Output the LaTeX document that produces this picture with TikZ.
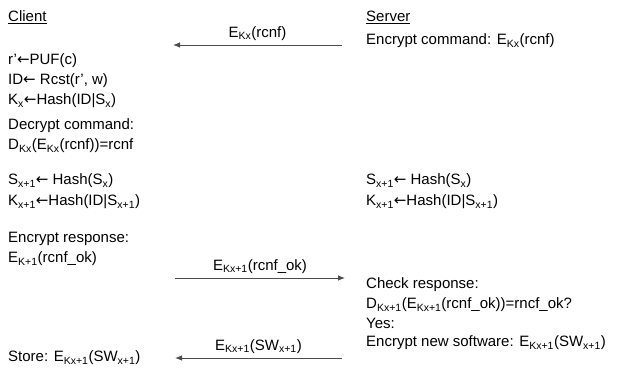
\documentclass[tikz,border=0pt]{standalone}
\usepackage{fontspec}
\setmainfont{Liberation Sans}
\newfontfamily\arrfont{DejaVu Sans}
\usetikzlibrary{arrows.meta}
\newcommand{\lo}[1]{\textsubscript{#1}}
\newcommand{\getsarr}{{\arrfont ←}}

\begin{document}
\begin{tikzpicture}[x=1pt,y=1pt,font=\fontsize{15}{18}\selectfont,
    txt/.style={anchor=west,inner sep=0pt},
    msg/.style={draw=black!70,line width=0.9pt,-{Latex[length=7pt,width=5.5pt]}}]
  \useasboundingbox (0,0) rectangle (619,-377);
  % client side
  \node[txt] (cl)   at (8,-17)  {\underline{Client}};
  \node[txt] (puf)  at (8,-61)  {r’\getsarr PUF(c)};
  \node[txt] (id)   at (8,-81)  {ID\getsarr\ Rcst(r’, w)};
  \node[txt] (kx)   at (8,-101) {K\lo{x}\getsarr Hash(ID|S\lo{x})};
  \node[txt] (dec)  at (8,-126) {Decrypt command:};
  \node[txt] (dres) at (8,-146) {D\lo{Kx}(E\lo{Kx}(rcnf))=rcnf};
  \node[txt] (cs)   at (8,-181) {S\lo{x+1}\getsarr\ Hash(S\lo{x})};
  \node[txt] (ck)   at (8,-202) {K\lo{x+1}\getsarr Hash(ID|S\lo{x+1})};
  \node[txt] (encr) at (8,-239) {Encrypt response:};
  \node[txt] (eok)  at (8,-259) {E\lo{K+1}(rcnf\_ok)};
  \node[txt] (sto)  at (8,-358) {Store: E\lo{Kx+1}(SW\lo{x+1})};
  % server side
  \node[txt] (sv)   at (366,-17)  {\underline{Server}};
  \node[txt] (encc) at (366,-41)  {Encrypt command: E\lo{Kx}(rcnf)};
  \node[txt] (ss)   at (366,-181) {S\lo{x+1}\getsarr\ Hash(S\lo{x})};
  \node[txt] (sk)   at (366,-202) {K\lo{x+1}\getsarr Hash(ID|S\lo{x+1})};
  \node[txt] (chk)  at (366,-285) {Check response:};
  \node[txt] (dchk) at (366,-305) {D\lo{Kx+1}(E\lo{Kx+1}(rcnf\_ok))=rncf\_ok?};
  \node[txt] (yes)  at (366,-323) {Yes:};
  \node[txt] (encs) at (366,-343) {Encrypt new software: E\lo{Kx+1}(SW\lo{x+1})};
  % message ends
  \coordinate (c1) at (173,-45);
  \coordinate (s1) at (342,-45);
  \coordinate (c2) at (175,-278);
  \coordinate (s2) at (345,-278);
  \coordinate (c3) at (175,-358);
  \coordinate (s3) at (342,-358);
  \draw[msg] (s1) -- node[above=4pt,inner sep=0pt] (m1) {E\lo{Kx}(rcnf)} (c1);
  \draw[msg] (c2) -- node[above=4pt,inner sep=0pt] (m2) {E\lo{Kx+1}(rcnf\_ok)} (s2);
  \draw[msg] (s3) -- node[above=4pt,inner sep=0pt] (m3) {E\lo{Kx+1}(SW\lo{x+1})} (c3);
\end{tikzpicture}
\end{document}
